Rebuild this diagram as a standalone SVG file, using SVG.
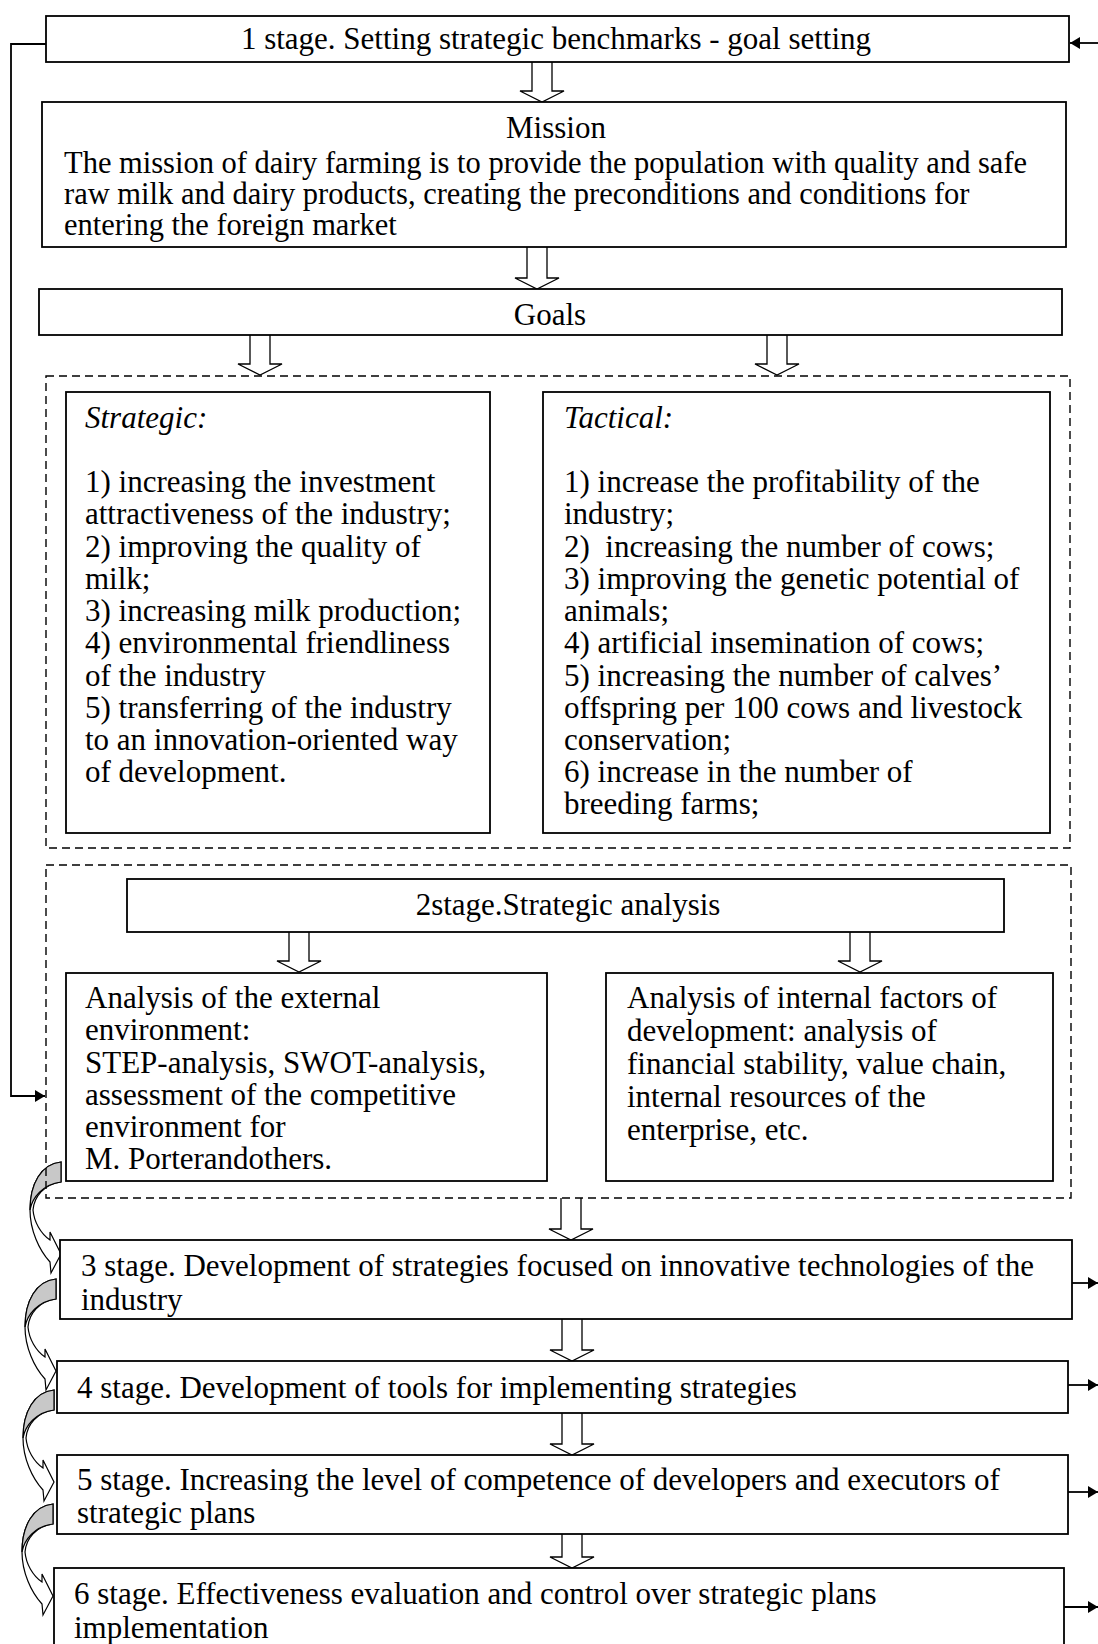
<svg xmlns="http://www.w3.org/2000/svg" xmlns:xlink="http://www.w3.org/1999/xlink" width="1098" height="1644" viewBox="0 0 1098 1644">
<style>
.box{fill:#fff;stroke:#000;stroke-width:1.8}
.dash{fill:none;stroke:#000;stroke-width:1.4;stroke-dasharray:8 5}
.t{font-family:"Liberation Serif","Times New Roman",serif;font-size:31px;fill:#000}
.m{font-size:30.5px}
.c{text-anchor:middle}
.i{font-style:italic}
.blk{fill:#fff;stroke:#000;stroke-width:1.3}
.ln{fill:none;stroke:#000;stroke-width:1.8}
.gray{fill:#c8c8c8;stroke:#000;stroke-width:1.2}
.wht{fill:#fff;stroke:#000;stroke-width:1.2}
</style>
<defs>
<marker id="ah" viewBox="0 0 10 12" refX="10" refY="6" markerWidth="10" markerHeight="12" markerUnits="userSpaceOnUse" orient="auto">
<path d="M0,0 L10,6 L0,12 Z" fill="#000"/>
</marker>
<clipPath id="mclip"><rect x="42" y="102" width="1024" height="145"/></clipPath>
<g id="curv">
<path class="wht" d="M0,0 C-20,2 -31,22 -31,48 C-31,68 -22,88 -11,100 L-10,111 L0,92 L-11,70 L-11,78 C-20,72 -27,60 -28,48 C-27,35 -17,22 0,20 Z"/>
<path class="gray" d="M0,0 C-20,2 -31,22 -31,48 C-29,36 -18,22 0,20 Z"/>
</g>
</defs>

<g id="connectors">
<polyline class="ln" points="46,44 11,44 11,1096 45,1096" marker-end="url(#ah)"/>
<line class="ln" x1="1098" y1="43" x2="1070" y2="43" marker-end="url(#ah)"/>
<line class="ln" x1="1072" y1="1283" x2="1098" y2="1283" marker-end="url(#ah)"/>
<line class="ln" x1="1068" y1="1385" x2="1098" y2="1385" marker-end="url(#ah)"/>
<line class="ln" x1="1068" y1="1492" x2="1098" y2="1492" marker-end="url(#ah)"/>
<line class="ln" x1="1064" y1="1607" x2="1098" y2="1607" marker-end="url(#ah)"/>
<path class="blk" d="M532,62 V91 H520 L542,102 L564,91 H552 V62"/>
<path class="blk" d="M527,247 V278 H515 L537,289 L559,278 H547 V247"/>
<path class="blk" d="M250,335 V364 H238 L260,375 L282,364 H270 V335"/>
<path class="blk" d="M767,335 V364 H755 L777,375 L799,364 H787 V335"/>
<path class="blk" d="M289,932 V961 H277 L299,972 L321,961 H309 V932"/>
<path class="blk" d="M850,932 V961 H838 L860,972 L882,961 H870 V932"/>
<path class="blk" d="M561,1198 V1229 H549 L571,1240 L593,1229 H581 V1198"/>
<path class="blk" d="M562,1319 V1350 H550 L572,1361 L594,1350 H582 V1319"/>
<path class="blk" d="M562,1413 V1444 H550 L572,1455 L594,1444 H582 V1413"/>
<path class="blk" d="M562,1534 V1557 H550 L572,1568 L594,1557 H582 V1534"/>
<use xlink:href="#curv" transform="translate(61,1162)"/>
<use xlink:href="#curv" transform="translate(56,1279)"/>
<use xlink:href="#curv" transform="translate(54,1390)"/>
<use xlink:href="#curv" transform="translate(53,1504)"/>
</g>

<g id="stage1">
<rect class="box" x="46" y="16" width="1023" height="46"/>
<text class="t c" x="556" y="49">1 stage. Setting strategic benchmarks - goal setting</text>
</g>

<g id="mission">
<rect class="box" x="42" y="102" width="1024" height="145"/>
<g clip-path="url(#mclip)">
<text class="t c" x="556" y="138">Mission</text>
<text class="t m" x="64" y="173">The mission of dairy farming is to provide the population with quality and safe</text>
<text class="t m" x="64" y="204">raw milk and dairy products, creating the preconditions and conditions for</text>
<text class="t m" x="64" y="235">entering the foreign market</text>
</g>
</g>

<g id="goals">
<rect class="box" x="39" y="289" width="1023" height="46"/>
<text class="t c" x="550" y="325">Goals</text>
</g>

<g id="goals-group">
<rect class="dash" x="46" y="376" width="1024" height="472"/>
</g>

<g id="strategic">
<rect class="box" x="66" y="392" width="424" height="441"/>
<text class="t i" x="85" y="428">Strategic:</text>
<text class="t" x="85" y="492">1) increasing the investment</text>
<text class="t" x="85" y="524">attractiveness of the industry;</text>
<text class="t" x="85" y="557">2) improving the quality of</text>
<text class="t" x="85" y="589">milk;</text>
<text class="t" x="85" y="621">3) increasing milk production;</text>
<text class="t" x="85" y="653">4) environmental friendliness</text>
<text class="t" x="85" y="686">of the industry</text>
<text class="t" x="85" y="718">5) transferring of the industry</text>
<text class="t" x="85" y="750">to an innovation-oriented way</text>
<text class="t" x="85" y="782">of development.</text>
</g>

<g id="tactical">
<rect class="box" x="543" y="392" width="507" height="441"/>
<text class="t i" x="564" y="428">Tactical:</text>
<text class="t" x="564" y="492">1) increase the profitability of the</text>
<text class="t" x="564" y="524">industry;</text>
<text class="t" x="564" y="557">2) &#160;increasing the number of cows;</text>
<text class="t" x="564" y="589">3) improving the genetic potential of</text>
<text class="t" x="564" y="621">animals;</text>
<text class="t" x="564" y="653">4) artificial insemination of cows;</text>
<text class="t" x="564" y="686">5) increasing the number of calves’</text>
<text class="t" x="564" y="718">offspring per 100 cows and livestock</text>
<text class="t" x="564" y="750">conservation;</text>
<text class="t" x="564" y="782">6) increase in the number of</text>
<text class="t" x="564" y="814">breeding farms;</text>
</g>

<g id="analysis-group">
<rect class="dash" x="46" y="865" width="1025" height="333"/>
</g>

<g id="stage2">
<rect class="box" x="127" y="879" width="877" height="53"/>
<text class="t c" x="568" y="915">2stage.Strategic analysis</text>
</g>

<g id="external">
<rect class="box" x="66" y="973" width="481" height="208"/>
<text class="t" x="85" y="1008">Analysis of the external</text>
<text class="t" x="85" y="1040">environment:</text>
<text class="t" x="85" y="1073">STEP-analysis, SWOT-analysis,</text>
<text class="t" x="85" y="1105">assessment of the competitive</text>
<text class="t" x="85" y="1137">environment for</text>
<text class="t" x="85" y="1169">M. Porterandothers.</text>
</g>

<g id="internal">
<rect class="box" x="606" y="973" width="447" height="208"/>
<text class="t" x="627" y="1008">Analysis of internal factors of</text>
<text class="t" x="627" y="1041">development: analysis of</text>
<text class="t" x="627" y="1074">financial stability, value chain,</text>
<text class="t" x="627" y="1107">internal resources of the</text>
<text class="t" x="627" y="1140">enterprise, etc.</text>
</g>

<g id="stage3">
<rect class="box" x="60" y="1240" width="1012" height="79"/>
<text class="t" x="81" y="1276">3 stage. Development of strategies focused on innovative technologies of the</text>
<text class="t" x="81" y="1310">industry</text>
</g>

<g id="stage4">
<rect class="box" x="57" y="1361" width="1011" height="52"/>
<text class="t" x="77" y="1398">4 stage. Development of tools for implementing strategies</text>
</g>

<g id="stage5">
<rect class="box" x="57" y="1455" width="1011" height="79"/>
<text class="t" x="77" y="1490">5 stage. Increasing the level of competence of developers and executors of</text>
<text class="t" x="77" y="1523">strategic plans</text>
</g>

<g id="stage6">
<rect class="box" x="54" y="1568" width="1010" height="95"/>
<text class="t" x="74" y="1604">6 stage. Effectiveness evaluation and control over strategic plans</text>
<text class="t" x="74" y="1638">implementation</text>
</g>
</svg>
